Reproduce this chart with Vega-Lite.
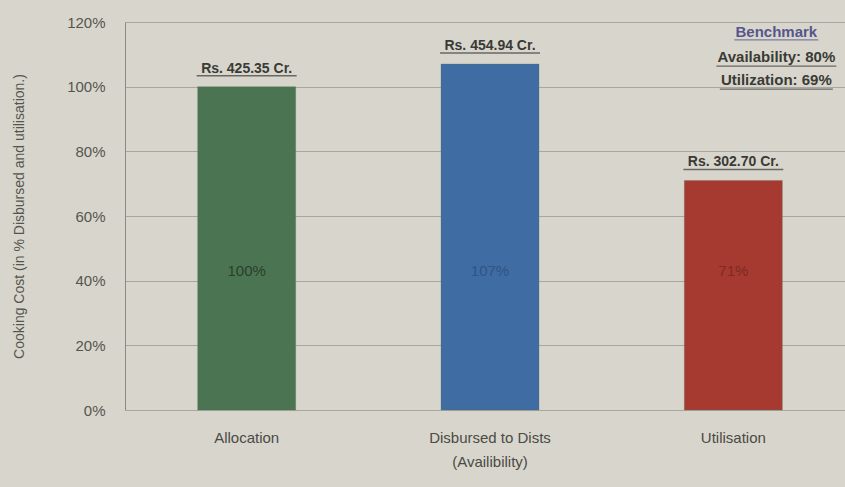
{
  "$schema": "https://vega.github.io/schema/vega-lite/v6.json",
  "width": 720,
  "height": 388,
  "autosize": {"type": "none"},
  "padding": {"left": 125, "top": 22, "right": 0, "bottom": 77},
  "background": "#d8d6cc",
  "config": {
    "view": {"stroke": null},
    "font": "Liberation Sans",
    "axis": {"labelFont": "Liberation Sans", "titleFont": "Liberation Sans"}
  },
  "datasets": {
    "bars": [
      {"category": "Allocation", "pct": 100, "label": "100%", "amount": "Rs. 425.35 Cr."},
      {"category": "Disbursed to Dists (Availibility)", "pct": 107, "label": "107%", "amount": "Rs. 454.94 Cr."},
      {"category": "Utilisation", "pct": 71, "label": "71%", "amount": "Rs. 302.70 Cr."}
    ],
    "bench": [
      {"category": "Utilisation", "line": "Benchmark", "y": 115.4},
      {"category": "Utilisation", "line": "Availability: 80%", "y": 107.6},
      {"category": "Utilisation", "line": "Utilization: 69%", "y": 100.5}
    ]
  },
  "data": {"name": "bars"},
  "encoding": {
    "x": {
      "field": "category",
      "type": "nominal",
      "sort": null,
      "scale": {"paddingInner": 0, "paddingOuter": 0, "range": [0, 730]},
      "axis": {
        "title": null,
        "labelAngle": 0,
        "labelFontSize": 15,
        "labelColor": "#4a4a46",
        "labelPadding": 20,
        "labelLineHeight": 24,
        "ticks": false,
        "domain": false,
        "labelExpr": "datum.value == 'Disbursed to Dists (Availibility)' ? ['Disbursed to Dists', '(Availibility)'] : datum.value"
      }
    }
  },
  "resolve": {"scale": {"color": "independent"}},
  "layer": [
    {
      "mark": {"type": "bar", "size": 98, "stroke": "#5a6a5a", "strokeOpacity": 0.3, "strokeWidth": 1},
      "encoding": {
        "y": {
          "field": "pct",
          "type": "quantitative",
          "scale": {"domain": [0, 120], "nice": false},
          "axis": {
            "values": [0, 20, 40, 60, 80, 100, 120],
            "labelExpr": "datum.value + '%'",
            "labelFontSize": 15,
            "labelColor": "#55554f",
            "labelPadding": 20,
            "ticks": false,
            "domainColor": "#8a8a84",
            "domainWidth": 1,
            "gridColor": "#a8a79f",
            "gridWidth": 1,
            "title": "Cooking Cost (in % Disbursed and utilisation.)",
            "titleFontSize": 14,
            "titleFontWeight": "normal",
            "titleColor": "#55554f",
            "titlePadding": 40
          }
        },
        "color": {
          "field": "category",
          "type": "nominal",
          "legend": null,
          "scale": {
            "domain": ["Allocation", "Disbursed to Dists (Availibility)", "Utilisation"],
            "range": ["#4b7552", "#3f6ca3", "#a63a30"]
          }
        }
      }
    },
    {
      "mark": {"type": "text", "fontSize": 15, "baseline": "middle"},
      "encoding": {
        "y": {"datum": 43, "type": "quantitative"},
        "text": {"field": "label"},
        "color": {
          "field": "category",
          "type": "nominal",
          "legend": null,
          "scale": {
            "domain": ["Allocation", "Disbursed to Dists (Availibility)", "Utilisation"],
            "range": ["#2c3d2e", "#2f5485", "#7e2a22"]
          }
        }
      }
    },
    {
      "mark": {"type": "text", "fontSize": 14, "fontWeight": "bold", "baseline": "alphabetic", "dy": -14, "color": "#3a3a36"},
      "encoding": {
        "y": {"field": "pct", "type": "quantitative"},
        "text": {"field": "amount"}
      }
    },
    {
      "mark": {"type": "tick", "orient": "horizontal", "size": 100, "thickness": 1.5, "yOffset": -11, "color": "#3a3a36"},
      "encoding": {
        "y": {"field": "pct", "type": "quantitative"}
      }
    },
    {
      "data": {"name": "bench"},
      "mark": {"type": "text", "fontSize": 15, "fontWeight": "bold", "baseline": "alphabetic", "xOffset": 43},
      "encoding": {
        "y": {"field": "y", "type": "quantitative"},
        "text": {"field": "line"},
        "color": {
          "condition": {"test": "datum.line == 'Benchmark'", "value": "#56568c"},
          "value": "#3a3a36"
        }
      }
    },
    {
      "data": {"name": "bench"},
      "transform": [{"filter": "datum.line == 'Benchmark'"}],
      "mark": {"type": "tick", "orient": "horizontal", "size": 84, "thickness": 1.2, "yOffset": 3, "xOffset": 43, "color": "#56568c"},
      "encoding": {"y": {"field": "y", "type": "quantitative"}}
    },
    {
      "data": {"name": "bench"},
      "transform": [{"filter": "datum.line == 'Availability: 80%'"}],
      "mark": {"type": "tick", "orient": "horizontal", "size": 120, "thickness": 1.2, "yOffset": 4, "xOffset": 43, "color": "#3a3a36"},
      "encoding": {"y": {"field": "y", "type": "quantitative"}}
    },
    {
      "data": {"name": "bench"},
      "transform": [{"filter": "datum.line == 'Utilization: 69%'"}],
      "mark": {"type": "tick", "orient": "horizontal", "size": 113, "thickness": 1.2, "yOffset": 4, "xOffset": 43, "color": "#3a3a36"},
      "encoding": {"y": {"field": "y", "type": "quantitative"}}
    }
  ]
}
